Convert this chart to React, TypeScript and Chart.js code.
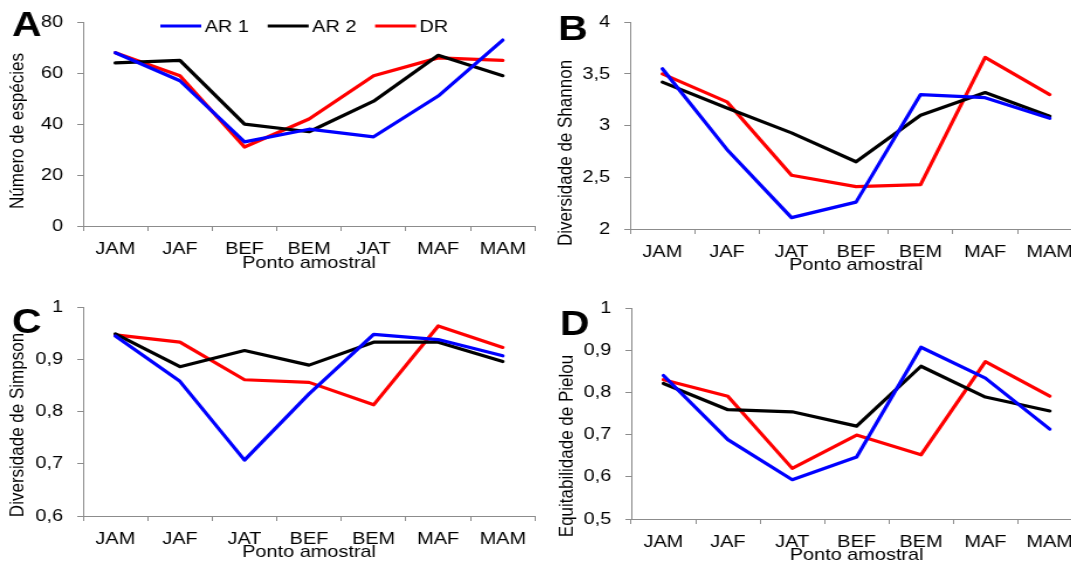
import React, { useEffect, useRef } from "react";
import { Chart, registerables } from "chart.js";

Chart.register(...registerables);

// ---------- data ----------
const SERIES_LABELS = ["AR 1", "AR 2", "DR"];
const SERIES_COLORS = ["#0000FF", "#000000", "#FF0000"];

const categoriesA = ["JAM", "JAF", "BEF", "BEM", "JAT", "MAF", "MAM"];
const speciesAR1 = [68, 57, 33, 38, 35, 51, 73];
const speciesAR2 = [64, 65, 40, 37, 49, 67, 59];
const speciesDR = [68, 59, 31, 42, 59, 66, 65];

const categoriesBCD = ["JAM", "JAF", "JAT", "BEF", "BEM", "MAF", "MAM"];
const shannonAR1 = [3.55, 2.77, 2.11, 2.26, 3.3, 3.27, 3.07];
const shannonAR2 = [3.42, 3.17, 2.93, 2.65, 3.1, 3.32, 3.09];
const shannonDR = [3.5, 3.23, 2.52, 2.41, 2.43, 3.66, 3.3];

const simpsonAR1 = [0.945, 0.858, 0.707, 0.834, 0.948, 0.938, 0.907];
const simpsonAR2 = [0.949, 0.886, 0.917, 0.889, 0.933, 0.933, 0.896];
const simpsonDR = [0.947, 0.933, 0.861, 0.856, 0.813, 0.964, 0.923];

const pielouAR1 = [0.84, 0.688, 0.593, 0.647, 0.907, 0.834, 0.713];
const pielouAR2 = [0.821, 0.759, 0.754, 0.72, 0.862, 0.789, 0.756];
const pielouDR = [0.83, 0.791, 0.62, 0.699, 0.652, 0.873, 0.791];

const X_TITLE = "Ponto amostral";

// ---------- style ----------
const FONT = '"Liberation Sans", Arial, sans-serif';
const AXIS_GRAY = "#8c8c8c";
const STRETCH = 1.17;

const decorPlugin = {
  id: "decor",
  afterDraw(chart: any, _args: any, opts: any) {
    const ctx = chart.ctx;
    ctx.save();
    ctx.fillStyle = "#000";
    // y title
    ctx.save();
    ctx.font = `17px ${FONT}`;
    ctx.translate(opts.yTitleX, opts.yTitleY);
    ctx.rotate(-Math.PI / 2);
    ctx.textAlign = "center";
    ctx.textBaseline = "middle";
    ctx.fillText(opts.yTitle, 0, 0);
    ctx.restore();
    // panel letter
    ctx.font = `bold 35px ${FONT}`;
    ctx.textAlign = "left";
    ctx.textBaseline = "alphabetic";
    ctx.fillText(opts.letter, opts.letterX, opts.letterY);
    // legend
    if (opts.legend) {
      ctx.font = `17px ${FONT}`;
      ctx.textBaseline = "middle";
      let x = opts.legendX;
      const y = opts.legendY;
      chart.data.datasets.forEach((ds: any) => {
        ctx.strokeStyle = ds.borderColor;
        ctx.lineWidth = 3;
        ctx.beginPath();
        ctx.moveTo(x, y);
        ctx.lineTo(x + 35, y);
        ctx.stroke();
        ctx.fillStyle = "#000";
        ctx.fillText(ds.label, x + 38, y + 1);
        x += 38 + ctx.measureText(ds.label).width + 16;
      });
    }
    ctx.restore();
  },
};

const fmt = (v: any) => String(Math.round(Number(v) * 10) / 10).replace(".", ",");

type PanelSpec = {
  left: number;
  top: number;
  W: number;
  H: number;
  L: number;
  R: number;
  T: number;
  B: number;
  titlePad: number;
  categories: string[];
  series: number[][];
  yMin: number;
  yMax: number;
  yStep: number;
  yTitle: string;
  yTitleX: number;
  yTitleY: number;
  letter: string;
  letterX: number;
  letterY: number;
  legend?: boolean;
};

function Panel({ spec }: { spec: PanelSpec }) {
  const ref = useRef<HTMLCanvasElement>(null);
  useEffect(() => {
    const canvas = ref.current!;
    const chart = new Chart(canvas, {
      type: "line",
      data: {
        labels: spec.categories,
        datasets: spec.series.map((d, i) => ({
          label: SERIES_LABELS[i],
          data: d,
          borderColor: SERIES_COLORS[i],
          backgroundColor: SERIES_COLORS[i],
          borderWidth: 3.2,
          pointRadius: 0,
          fill: false,
          tension: 0,
          borderJoinStyle: "round",
          borderCapStyle: "round",
        })),
      },
      options: {
        animation: false,
        responsive: false,
        devicePixelRatio: 1,
        layout: {
          padding: { left: 0, top: spec.T, right: spec.W - spec.R, bottom: 0 },
        },
        plugins: {
          legend: { display: false },
          tooltip: { enabled: false },
          decor: {
            yTitle: spec.yTitle,
            yTitleX: spec.yTitleX,
            yTitleY: spec.yTitleY,
            letter: spec.letter,
            letterX: spec.letterX,
            letterY: spec.letterY,
            legend: !!spec.legend,
            legendX: 137,
            legendY: 26,
          },
        } as any,
        scales: {
          x: {
            type: "category",
            offset: true,
            grid: {
              offset: true,
              drawOnChartArea: false,
              drawTicks: true,
              tickLength: 5,
              color: AXIS_GRAY,
            },
            border: { display: true, color: AXIS_GRAY, width: 1 },
            ticks: {
              font: { family: FONT, size: 17 },
              color: "#000",
              padding: 8,
              maxRotation: 0,
              autoSkip: false,
            },
            title: {
              display: true,
              text: X_TITLE,
              color: "#000",
              font: { family: FONT, size: 17 },
              padding: { top: 0, bottom: spec.titlePad },
            },
            afterFit: (s: any) => {
              s.height = spec.H - spec.B;
            },
          },
          y: {
            type: "linear",
            min: spec.yMin,
            max: spec.yMax,
            ticks: {
              stepSize: spec.yStep,
              callback: (v: any) => fmt(v),
              font: { family: FONT, size: 17 },
              color: "#000",
              padding: 12,
            },
            grid: {
              drawOnChartArea: false,
              drawTicks: true,
              tickLength: 5,
              color: AXIS_GRAY,
            },
            border: { display: true, color: AXIS_GRAY, width: 1 },
            afterFit: (s: any) => {
              s.width = spec.L;
            },
          },
        },
      } as any,
      plugins: [decorPlugin],
    });
    return () => chart.destroy();
  }, []);
  return (
    <div
      style={{
        position: "absolute",
        left: spec.left,
        top: spec.top,
        width: spec.W,
        height: spec.H,
        transform: `scaleX(${STRETCH})`,
        transformOrigin: "0 0",
      }}
    >
      <canvas ref={ref} width={spec.W} height={spec.H} style={{ display: "block" }} />
    </div>
  );
}

const panels: PanelSpec[] = [
  {
    left: 0, top: 0, W: 462, H: 285, L: 71, R: 457.3, T: 17, B: 226, titlePad: 11.8,
    categories: categoriesA, series: [speciesAR1, speciesAR2, speciesDR],
    yMin: 0, yMax: 80, yStep: 20,
    yTitle: "Número de espécies", yTitleX: 15.4, yTitleY: 131,
    letter: "A", letterX: 10.3, letterY: 36, legend: true,
  },
  {
    left: 540, top: 0, W: 480, H: 285, L: 77, R: 463.2, T: 19, B: 229, titlePad: 9.8,
    categories: categoriesBCD, series: [shannonAR1, shannonAR2, shannonDR],
    yMin: 2, yMax: 4, yStep: 0.5,
    yTitle: "Diversidade de Shannon", yTitleX: 22.2, yTitleY: 153,
    letter: "B", letterX: 15.4, letterY: 40,
  },
  {
    left: 0, top: 285, W: 462, H: 280, L: 71, R: 457.3, T: 22, B: 231, titlePad: 2.8,
    categories: categoriesBCD, series: [simpsonAR1, simpsonAR2, simpsonDR],
    yMin: 0.6, yMax: 1, yStep: 0.1,
    yTitle: "Diversidade de Simpson", yTitleX: 15.4, yTitleY: 140,
    letter: "C", letterX: 10.3, letterY: 48,
  },
  {
    left: 540, top: 285, W: 480, H: 282, L: 78, R: 463.2, T: 23, B: 234, titlePad: 1.8,
    categories: categoriesBCD, series: [pielouAR1, pielouAR2, pielouDR],
    yMin: 0.5, yMax: 1, yStep: 0.1,
    yTitle: "Equitabilidade de Pielou", yTitleX: 23.1, yTitleY: 161,
    letter: "D", letterX: 17.1, letterY: 50,
  },
];

export default function App() {
  return (
    <div
      style={{
        position: "fixed",
        left: 0,
        top: 0,
        width: 1071,
        height: 562,
        overflow: "hidden",
        background: "#fff",
      }}
    >
      {panels.map((p, i) => (
        <Panel key={i} spec={p} />
      ))}
    </div>
  );
}
